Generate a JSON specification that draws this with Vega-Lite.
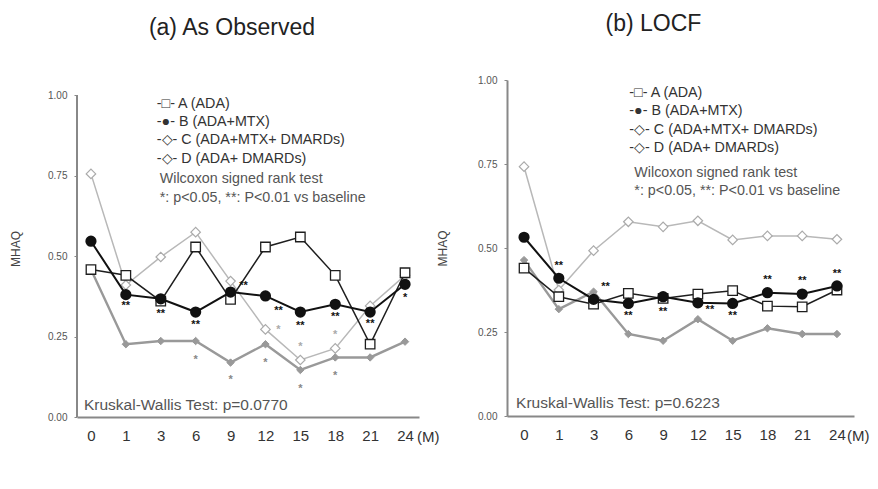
{
  "$schema": "https://vega.github.io/schema/vega-lite/v6.json",
  "background": "white",
  "padding": {"left": 9, "top": 13, "right": 0, "bottom": 0},
  "bounds": "flush",
  "spacing": 88,
  "config": {"view": {"stroke": null}, "font": "Liberation Sans"},
  "datasets": {
    "obs": [
      {"series": "C", "month": 0, "value": 0.755}, {"series": "C", "month": 1, "value": 0.41}, {"series": "C", "month": 3, "value": 0.497}, {"series": "C", "month": 6, "value": 0.574}, {"series": "C", "month": 9, "value": 0.422}, {"series": "C", "month": 12, "value": 0.272}, {"series": "C", "month": 15, "value": 0.177}, {"series": "C", "month": 18, "value": 0.213}, {"series": "C", "month": 21, "value": 0.345}, {"series": "C", "month": 24, "value": 0.44},
      {"series": "D", "month": 0, "value": 0.458}, {"series": "D", "month": 1, "value": 0.226}, {"series": "D", "month": 3, "value": 0.236}, {"series": "D", "month": 6, "value": 0.236}, {"series": "D", "month": 9, "value": 0.169}, {"series": "D", "month": 12, "value": 0.226}, {"series": "D", "month": 15, "value": 0.146}, {"series": "D", "month": 18, "value": 0.185}, {"series": "D", "month": 21, "value": 0.185}, {"series": "D", "month": 24, "value": 0.234},
      {"series": "A", "month": 0, "value": 0.458}, {"series": "A", "month": 1, "value": 0.44}, {"series": "A", "month": 3, "value": 0.36}, {"series": "A", "month": 6, "value": 0.528}, {"series": "A", "month": 9, "value": 0.365}, {"series": "A", "month": 12, "value": 0.528}, {"series": "A", "month": 15, "value": 0.559}, {"series": "A", "month": 18, "value": 0.44}, {"series": "A", "month": 21, "value": 0.226}, {"series": "A", "month": 24, "value": 0.448},
      {"series": "B", "month": 0, "value": 0.546}, {"series": "B", "month": 1, "value": 0.38}, {"series": "B", "month": 3, "value": 0.367}, {"series": "B", "month": 6, "value": 0.326}, {"series": "B", "month": 9, "value": 0.388}, {"series": "B", "month": 12, "value": 0.376}, {"series": "B", "month": 15, "value": 0.326}, {"series": "B", "month": 18, "value": 0.35}, {"series": "B", "month": 21, "value": 0.326}, {"series": "B", "month": 24, "value": 0.412}
    ],
    "locf": [
      {"series": "C", "month": 0, "value": 0.742}, {"series": "C", "month": 1, "value": 0.375}, {"series": "C", "month": 3, "value": 0.492}, {"series": "C", "month": 6, "value": 0.578}, {"series": "C", "month": 9, "value": 0.563}, {"series": "C", "month": 12, "value": 0.581}, {"series": "C", "month": 15, "value": 0.524}, {"series": "C", "month": 18, "value": 0.536}, {"series": "C", "month": 21, "value": 0.536}, {"series": "C", "month": 24, "value": 0.526},
      {"series": "D", "month": 0, "value": 0.464}, {"series": "D", "month": 1, "value": 0.318}, {"series": "D", "month": 3, "value": 0.37}, {"series": "D", "month": 6, "value": 0.244}, {"series": "D", "month": 9, "value": 0.224}, {"series": "D", "month": 12, "value": 0.288}, {"series": "D", "month": 15, "value": 0.224}, {"series": "D", "month": 18, "value": 0.261}, {"series": "D", "month": 21, "value": 0.244}, {"series": "D", "month": 24, "value": 0.244},
      {"series": "A", "month": 0, "value": 0.44}, {"series": "A", "month": 1, "value": 0.355}, {"series": "A", "month": 3, "value": 0.333}, {"series": "A", "month": 6, "value": 0.365}, {"series": "A", "month": 9, "value": 0.35}, {"series": "A", "month": 12, "value": 0.363}, {"series": "A", "month": 15, "value": 0.373}, {"series": "A", "month": 18, "value": 0.327}, {"series": "A", "month": 21, "value": 0.325}, {"series": "A", "month": 24, "value": 0.375},
      {"series": "B", "month": 0, "value": 0.532}, {"series": "B", "month": 1, "value": 0.41}, {"series": "B", "month": 3, "value": 0.347}, {"series": "B", "month": 6, "value": 0.335}, {"series": "B", "month": 9, "value": 0.355}, {"series": "B", "month": 12, "value": 0.337}, {"series": "B", "month": 15, "value": 0.335}, {"series": "B", "month": 18, "value": 0.367}, {"series": "B", "month": 21, "value": 0.363}, {"series": "B", "month": 24, "value": 0.387}
    ]
  },
  "hconcat": [
    {
      "width": 342,
      "height": 337,
      "title": {"text": "(a) As Observed", "fontSize": 23, "fontWeight": "normal", "color": "#222", "anchor": "middle", "frame": "group", "dx": -16, "offset": 22, "baseline": "alphabetic"},
      "resolve": {"scale": {"x": "independent"}},
      "layer": [
        {
          "layer": [
            {
              "data": {"name": "obs"},
              "transform": [{"filter": "datum.series === 'C'"}],
              "mark": {"type": "line", "color": "#b8b8b8", "strokeWidth": 1.5, "point": {"shape": "diamond", "size": 90, "filled": true, "fill": "#ffffff", "stroke": "#aaaaaa", "strokeWidth": 1.2}},
              "encoding": {
                "x": {"field": "month", "type": "ordinal", "scale": {"type": "point", "padding": 0.4}, "axis": {"title": null, "labelAngle": 0, "ticks": false, "tickSize": 0, "grid": false, "domainColor": "#888", "domainWidth": 2, "labelFontSize": 15, "labelColor": "#333", "labelPadding": 11, "labelDx": -3}},
                "y": {"field": "value", "type": "quantitative", "scale": {"domain": [0, 1.0466], "nice": false}, "axis": {"values": [0, 0.25, 0.5, 0.75, 1], "format": ".2f", "grid": false, "domain": false, "title": "MHAQ", "titleFontSize": 12, "titleFontWeight": "normal", "titleColor": "#444", "titlePadding": 25, "labelFont": "Liberation Sans", "labelFontSize": 10, "labelColor": "#555", "tickSize": 3, "tickColor": "#888", "labelPadding": 7}}
              }
            },
            {
              "data": {"name": "obs"},
              "transform": [{"filter": "datum.series === 'D'"}],
              "mark": {"type": "line", "color": "#999999", "strokeWidth": 2.4, "point": {"shape": "diamond", "size": 55, "filled": true, "fill": "#999999", "stroke": "#999999", "strokeWidth": 1}},
              "encoding": {"x": {"field": "month", "type": "ordinal"}, "y": {"field": "value", "type": "quantitative"}}
            },
            {
              "data": {"name": "obs"},
              "transform": [{"filter": "datum.series === 'A'"}],
              "mark": {"type": "line", "color": "#1e1e1e", "strokeWidth": 1.5, "point": {"shape": "square", "size": 90, "filled": true, "fill": "#ffffff", "stroke": "#1e1e1e", "strokeWidth": 1.3}},
              "encoding": {"x": {"field": "month", "type": "ordinal"}, "y": {"field": "value", "type": "quantitative"}}
            },
            {
              "data": {"name": "obs"},
              "transform": [{"filter": "datum.series === 'B'"}],
              "mark": {"type": "line", "color": "#111111", "strokeWidth": 2, "point": {"shape": "circle", "size": 85, "filled": true, "fill": "#111111", "stroke": "#111111"}},
              "encoding": {"x": {"field": "month", "type": "ordinal"}, "y": {"field": "value", "type": "quantitative"}}
            },
            {
              "data": {"values": [
                {"month": 1, "value": 0.354, "label": "**", "series": "B"}, {"month": 3, "value": 0.329, "label": "**", "series": "B"}, {"month": 6, "value": 0.295, "label": "**", "series": "B"}, {"month": 15, "value": 0.292, "label": "**", "series": "B"}, {"month": 18, "value": 0.32, "label": "**", "series": "B"}, {"month": 21, "value": 0.298, "label": "**", "series": "B"}, {"month": 24, "value": 0.379, "label": "*", "series": "B"},
                {"month": 15, "value": 0.227, "label": "*", "series": "C"}, {"month": 18, "value": 0.264, "label": "*", "series": "C"},
                {"month": 6, "value": 0.186, "label": "*", "series": "D"}, {"month": 9, "value": 0.124, "label": "*", "series": "D"}, {"month": 12, "value": 0.177, "label": "*", "series": "D"}, {"month": 15, "value": 0.096, "label": "*", "series": "D"}, {"month": 18, "value": 0.137, "label": "*", "series": "D"}
              ]},
              "mark": {"type": "text", "fontSize": 11, "fontWeight": "bold", "baseline": "middle", "align": "center", "dy": 3},
              "encoding": {
                "x": {"field": "month", "type": "ordinal"},
                "y": {"field": "value", "type": "quantitative"},
                "text": {"field": "label"},
                "color": {"field": "series", "type": "nominal", "scale": {"domain": ["B", "C", "D"], "range": ["#111111", "#aaaaaa", "#888888"]}, "legend": null}
              }
            },
            {
              "data": {"values": [
                {"month": 9, "value": 0.416, "label": "**", "series": "B"}, {"month": 12, "value": 0.339, "label": "**", "series": "B"}, {"month": 12, "value": 0.28, "label": "*", "series": "C"}
              ]},
              "mark": {"type": "text", "fontSize": 11, "fontWeight": "bold", "baseline": "middle", "align": "center", "dy": 3, "dx": 13},
              "encoding": {
                "x": {"field": "month", "type": "ordinal"},
                "y": {"field": "value", "type": "quantitative"},
                "text": {"field": "label"},
                "color": {"field": "series", "type": "nominal", "scale": {"domain": ["B", "C", "D"], "range": ["#111111", "#aaaaaa", "#888888"]}, "legend": null}
              }
            },
            {
              "data": {"values": [{}]},
              "mark": {"type": "text", "align": "left", "baseline": "top", "fontSize": 14.3, "color": "#333", "lineHeight": 18.4, "dx": -4},
              "encoding": {"x": {"datum": 3, "type": "ordinal"}, "y": {"datum": 0.995, "type": "quantitative"}, "text": {"value": ["-□- A (ADA)", "-●- B (ADA+MTX)", "-◇- C (ADA+MTX+ DMARDs)", "-◇- D (ADA+ DMARDs)"]}}
            },
            {
              "data": {"values": [{}]},
              "mark": {"type": "text", "align": "left", "baseline": "top", "fontSize": 14.3, "color": "#555", "lineHeight": 19, "dx": -1},
              "encoding": {"x": {"datum": 3, "type": "ordinal"}, "y": {"datum": 0.762, "type": "quantitative"}, "text": {"value": ["Wilcoxon signed rank test", "*: p<0.05,  **: P<0.01 vs baseline"]}}
            },
            {
              "data": {"values": [{}]},
              "mark": {"type": "text", "align": "left", "baseline": "middle", "fontSize": 15.5, "color": "#555", "dx": -7},
              "encoding": {"x": {"datum": 0, "type": "ordinal"}, "y": {"datum": 0.037, "type": "quantitative"}, "text": {"value": "Kruskal-Wallis Test: p=0.0770"}}
            },
            {
              "data": {"values": [{}]},
              "mark": {"type": "text", "align": "left", "baseline": "middle", "fontSize": 15, "color": "#333", "dx": 12, "dy": 20},
              "encoding": {"x": {"datum": 24, "type": "ordinal"}, "y": {"datum": 0, "type": "quantitative"}, "text": {"value": "(M)"}}
            }
          ]
        },
        {
          "data": {"values": [{}]},
          "mark": {"type": "rule", "color": "#888", "strokeWidth": 2},
          "encoding": {
            "x": {"datum": 0, "type": "quantitative", "scale": {"domain": [0, 1]}, "axis": null},
            "y": {"datum": 0, "type": "quantitative"},
            "y2": {"datum": 1}
          }
        }
      ]
    },
    {
      "width": 347,
      "height": 336,
      "title": {"text": "(b) LOCF", "fontSize": 23, "fontWeight": "normal", "color": "#222", "anchor": "middle", "frame": "group", "dx": -27, "offset": 21, "baseline": "alphabetic"},
      "layer": [
        {
          "data": {"name": "locf"},
          "transform": [{"filter": "datum.series === 'C'"}],
          "mark": {"type": "line", "color": "#b8b8b8", "strokeWidth": 1.5, "point": {"shape": "diamond", "size": 90, "filled": true, "fill": "#ffffff", "stroke": "#aaaaaa", "strokeWidth": 1.2}},
          "encoding": {
            "x": {"field": "month", "type": "ordinal", "scale": {"type": "point", "padding": 0.49}, "axis": {"title": null, "labelAngle": 0, "ticks": false, "tickSize": 0, "grid": false, "domainColor": "#888", "domainWidth": 2, "labelFontSize": 15, "labelColor": "#333", "labelPadding": 11, "labelDx": -3}},
            "y": {"field": "value", "type": "quantitative", "scale": {"domain": [0, 1], "nice": false}, "axis": {"values": [0, 0.25, 0.5, 0.75, 1], "format": ".2f", "grid": false, "domain": true, "domainColor": "#888", "domainWidth": 2, "title": "MHAQ", "titleFontSize": 12, "titleFontWeight": "normal", "titleColor": "#444", "titlePadding": 28, "labelFont": "Liberation Sans", "labelFontSize": 10, "labelColor": "#555", "tickSize": 3, "tickColor": "#888", "labelPadding": 7}}
          }
        },
        {
          "data": {"name": "locf"},
          "transform": [{"filter": "datum.series === 'D'"}],
          "mark": {"type": "line", "color": "#999999", "strokeWidth": 2.4, "point": {"shape": "diamond", "size": 55, "filled": true, "fill": "#999999", "stroke": "#999999", "strokeWidth": 1}},
          "encoding": {"x": {"field": "month", "type": "ordinal"}, "y": {"field": "value", "type": "quantitative"}}
        },
        {
          "data": {"name": "locf"},
          "transform": [{"filter": "datum.series === 'A'"}],
          "mark": {"type": "line", "color": "#1e1e1e", "strokeWidth": 1.5, "point": {"shape": "square", "size": 90, "filled": true, "fill": "#ffffff", "stroke": "#1e1e1e", "strokeWidth": 1.3}},
          "encoding": {"x": {"field": "month", "type": "ordinal"}, "y": {"field": "value", "type": "quantitative"}}
        },
        {
          "data": {"name": "locf"},
          "transform": [{"filter": "datum.series === 'B'"}],
          "mark": {"type": "line", "color": "#111111", "strokeWidth": 2, "point": {"shape": "circle", "size": 85, "filled": true, "fill": "#111111", "stroke": "#111111"}},
          "encoding": {"x": {"field": "month", "type": "ordinal"}, "y": {"field": "value", "type": "quantitative"}}
        },
        {
          "data": {"values": [
            {"month": 1, "value": 0.455, "label": "**"}, {"month": 6, "value": 0.307, "label": "**"}, {"month": 9, "value": 0.318, "label": "**"}, {"month": 15, "value": 0.307, "label": "**"}, {"month": 18, "value": 0.414, "label": "**"}, {"month": 21, "value": 0.411, "label": "**"}, {"month": 24, "value": 0.432, "label": "**"}
          ]},
          "mark": {"type": "text", "fontSize": 11, "fontWeight": "bold", "baseline": "middle", "align": "center", "dy": 3, "color": "#111"},
          "encoding": {"x": {"field": "month", "type": "ordinal"}, "y": {"field": "value", "type": "quantitative"}, "text": {"field": "label"}}
        },
        {
          "data": {"values": [
            {"month": 3, "value": 0.393, "label": "**"}, {"month": 12, "value": 0.324, "label": "**"}
          ]},
          "mark": {"type": "text", "fontSize": 11, "fontWeight": "bold", "baseline": "middle", "align": "center", "dy": 3, "dx": 12, "color": "#111"},
          "encoding": {"x": {"field": "month", "type": "ordinal"}, "y": {"field": "value", "type": "quantitative"}, "text": {"field": "label"}}
        },
        {
          "data": {"values": [{}]},
          "mark": {"type": "text", "align": "left", "baseline": "top", "fontSize": 14.3, "color": "#333", "lineHeight": 18.4, "dx": 1},
          "encoding": {"x": {"datum": 6, "type": "ordinal"}, "y": {"datum": 0.983, "type": "quantitative"}, "text": {"value": ["-□- A (ADA)", "-●- B (ADA+MTX)", "-◇- C (ADA+MTX+ DMARDs)", "-◇- D (ADA+ DMARDs)"]}}
        },
        {
          "data": {"values": [{}]},
          "mark": {"type": "text", "align": "left", "baseline": "top", "fontSize": 14.3, "color": "#555", "lineHeight": 18, "dx": 6},
          "encoding": {"x": {"datum": 6, "type": "ordinal"}, "y": {"datum": 0.745, "type": "quantitative"}, "text": {"value": ["Wilcoxon signed rank test", "*: p<0.05,  **: P<0.01 vs baseline"]}}
        },
        {
          "data": {"values": [{}]},
          "mark": {"type": "text", "align": "left", "baseline": "middle", "fontSize": 15.5, "color": "#555", "dx": -8},
          "encoding": {"x": {"datum": 0, "type": "ordinal"}, "y": {"datum": 0.039, "type": "quantitative"}, "text": {"value": "Kruskal-Wallis Test: p=0.6223"}}
        },
        {
          "data": {"values": [{}]},
          "mark": {"type": "text", "align": "left", "baseline": "middle", "fontSize": 15, "color": "#333", "dx": 10, "dy": 20},
          "encoding": {"x": {"datum": 24, "type": "ordinal"}, "y": {"datum": 0, "type": "quantitative"}, "text": {"value": "(M)"}}
        }
      ]
    }
  ]
}
